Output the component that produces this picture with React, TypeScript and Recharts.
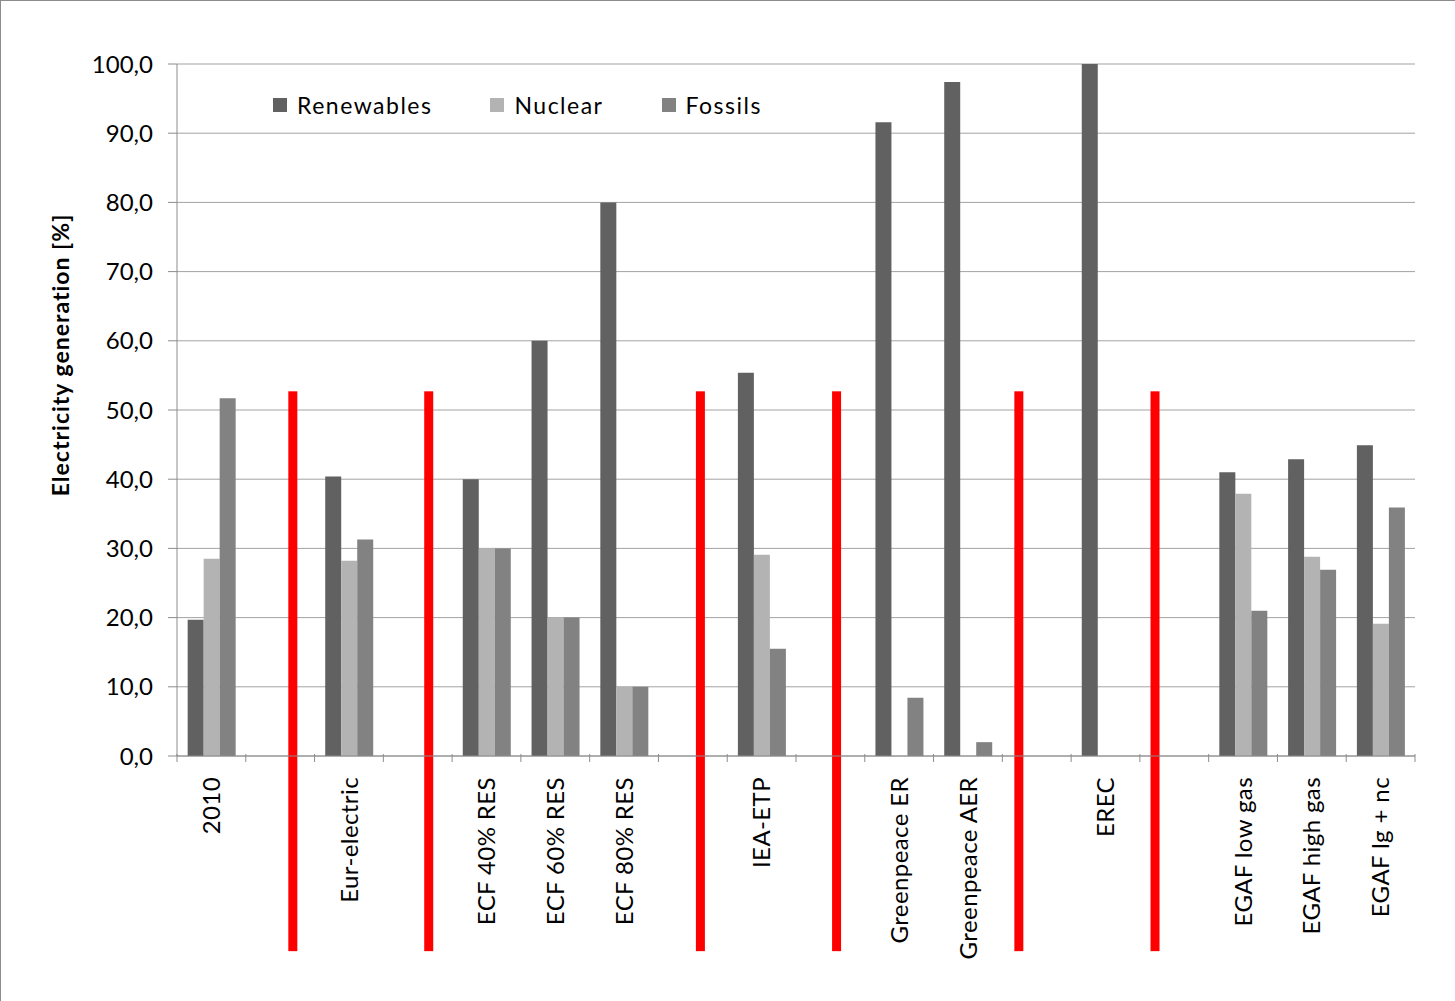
import React from 'react';
import {
  BarChart,
  Bar,
  XAxis,
  YAxis,
  CartesianGrid,
  Legend,
  ReferenceLine,
} from 'recharts';

// Scenario columns; empty strings are spacer columns between scenario groups
const categories = [
  '2010', '', 'Eur-electric', '', 'ECF 40% RES', 'ECF 60% RES', 'ECF 80% RES', '',
  'IEA-ETP', '', 'Greenpeace ER', 'Greenpeace AER', '', 'EREC', '',
  'EGAF low gas', 'EGAF high gas', 'EGAF lg + nc',
];

// Share of electricity generation [%]
const renewables = [19.7, null, 40.4, null, 40, 60, 80, null, 55.4, null, 91.6, 97.4, null, 100, null, 41.0, 42.9, 44.9];
const nuclear = [28.5, null, 28.2, null, 30, 20, 10, null, 29.1, null, 0, 0, null, 0, null, 37.9, 28.8, 19.1];
const fossils = [51.7, null, 31.3, null, 30, 20, 10, null, 15.5, null, 8.4, 2.0, null, 0, null, 21.0, 26.9, 35.9];

const yTicks = [0, 10, 20, 30, 40, 50, 60, 70, 80, 90, 100];

// Group dividers, in column units along the category axis (0 = left edge, 18 = right edge)
const dividerPositions = [1.684, 3.66, 7.61, 9.59, 12.24, 14.22];
const dividerTop = 52.7;
const dividerBottom = -28.2;

const seriesNames = ['Renewables', 'Nuclear', 'Fossils'];
const seriesColors = ['#616161', '#b3b3b3', '#828282'];

const data = categories.map((name, i) => ({
  key: `c${i}`,
  pos: i + 0.5,
  name,
  Renewables: renewables[i],
  Nuclear: nuclear[i],
  Fossils: fossils[i],
}));

const FONT = 'Lato, "Open Sans", sans-serif';
const AXIS_GRAY = '#8c8c8c';

const formatPct = (v: number) => v.toFixed(1).replace('.', ',');

const CategoryTick = (props: any) => {
  const { x, y, payload, index } = props;
  const half = payload && payload.offset ? payload.offset : 34.36;
  const label = data[index] ? data[index].name : '';
  const axisY = y - 8;
  const isLast = index === data.length - 1;
  return (
    <g>
      <line x1={x - half} x2={x - half} y1={axisY} y2={axisY + 8} stroke={AXIS_GRAY} strokeWidth={1} />
      {isLast && (
        <line x1={x + half} x2={x + half} y1={axisY} y2={axisY + 8} stroke={AXIS_GRAY} strokeWidth={1} />
      )}
      <text
        transform={`translate(${x}, ${axisY + 23}) rotate(-90)`}
        x={0}
        y={0}
        dy="0.36em"
        textAnchor="end"
        fontFamily={FONT}
        fontSize={24}
        letterSpacing={0.4}
        fill="#000"
      >
        {label}
      </text>
    </g>
  );
};

const LegendContent = () => (
  <div style={{ display: 'flex', alignItems: 'center', fontFamily: FONT, fontSize: 23, letterSpacing: 1.5 }}>
    {seriesNames.map((n, i) => (
      <div key={n} style={{ display: 'flex', alignItems: 'center', marginRight: 58 }}>
        <span style={{ display: 'inline-block', width: 14, height: 14, background: seriesColors[i], marginRight: 10 }} />
        <span style={{ color: '#000', lineHeight: '24px' }}>{n}</span>
      </div>
    ))}
  </div>
);

const YTitle = (props: any) => {
  const { viewBox } = props;
  const cx = 60;
  const cy = viewBox ? viewBox.y + viewBox.height / 2 - 55 : 354;
  return (
    <text
      transform={`translate(${cx}, ${cy}) rotate(-90)`}
      textAnchor="middle"
      dy="0.36em"
      fontFamily={FONT}
      fontWeight="bold"
      fontSize={23}
      letterSpacing={1}
      fill="#000"
    >
      Electricity generation [%]
    </text>
  );
};

const DividerLine = (props: any) => {
  const { x1, y1, x2, y2 } = props;
  const x = (x1 + x2) / 2;
  return <rect x={x - 4.5} y={Math.min(y1, y2)} width={9} height={Math.abs(y2 - y1)} fill="#ff0000" />;
};

export default function App() {
  return (
    <div
      style={{
        position: 'absolute',
        left: 0,
        top: 0,
        width: 1455,
        height: 1001,
        background: '#fff',
        borderTop: '1px solid #8c8c8c',
        borderLeft: '1px solid #8c8c8c',
        boxSizing: 'border-box',
      }}
    >
      <BarChart
        width={1454}
        height={1000}
        data={data}
        margin={{ top: 63, right: 40, bottom: 0, left: 0 }}
        barCategoryGap="15.5%"
        barGap={0}
      >
        <CartesianGrid vertical={false} stroke="#a3a3a3" strokeWidth={1} />
        <XAxis
          dataKey="key"
          type="category"
          height={245}
          axisLine={{ stroke: AXIS_GRAY }}
          tickLine={false}
          tick={<CategoryTick />}
          tickMargin={0}
          interval={0}
        />
        <XAxis
          xAxisId="pos"
          dataKey="pos"
          type="number"
          domain={[0, 18]}
          allowDataOverflow
          hide
        />
        <YAxis
          domain={[0, 100]}
          ticks={yTicks}
          tickFormatter={formatPct}
          width={176}
          axisLine={{ stroke: AXIS_GRAY }}
          tickLine={{ stroke: AXIS_GRAY }}
          tickSize={9}
          tickMargin={15}
          interval={0}
          tick={{ fontFamily: FONT, fontSize: 24, fill: '#000' }}
          label={<YTitle />}
        />
        <Legend
          layout="horizontal"
          verticalAlign="middle"
          align="center"
          content={<LegendContent />}
          wrapperStyle={{ top: 92, left: 272, width: 'auto' }}
        />
        {seriesNames.map((n, i) => (
          <Bar key={n} dataKey={n} fill={seriesColors[i]} isAnimationActive={false} />
        ))}
        {dividerPositions.map((p) => (
          <ReferenceLine
            key={p}
            xAxisId="pos"
            segment={[{ x: p, y: dividerTop }, { x: p, y: dividerBottom }]}
            ifOverflow="visible"
            stroke="#ff0000"
            strokeWidth={9}
            shape={<DividerLine />}
          />
        ))}
      </BarChart>
    </div>
  );
}
